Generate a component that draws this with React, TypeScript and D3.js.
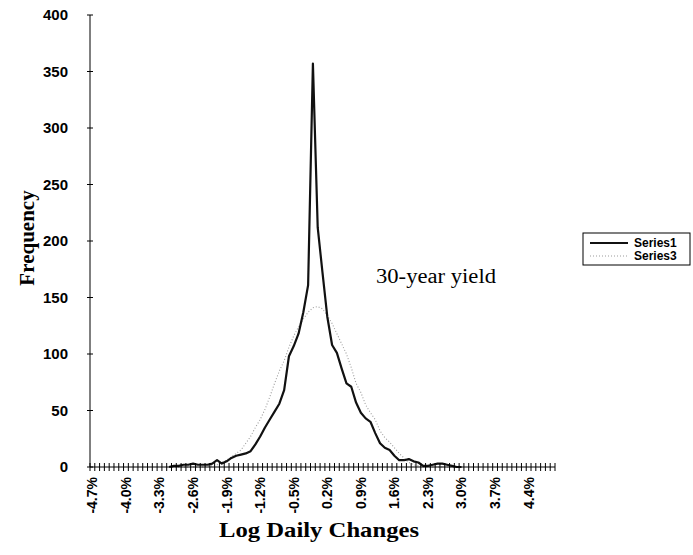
import React from 'react';
import * as d3 from 'd3';

// category axis: log daily changes, -4.7% .. 4.9% in 0.1% bins
const categories: string[] = d3.range(-47, 50).map((v) => `${(v / 10).toFixed(1)}%`);

const xTickLabels = ['-4.7%', '-4.0%', '-3.3%', '-2.6%', '-1.9%', '-1.2%', '-0.5%', '0.2%', '0.9%', '1.6%', '2.3%', '3.0%', '3.7%', '4.4%'];
const yTicks = [0, 50, 100, 150, 200, 250, 300, 350, 400];

// observed frequencies (null = no data in that bin)
const series1: (number | null)[] = [
    null, null, null, null, null, null, null, null, null, null, null, null, null, null, null, null,
    0, 1, 1, 2, 2, 3, 2, 2, 2, 3, 6, 3, 5, 8, 10, 11, 12, 14, 20, 27, 35, 42, 49, 56,
    68, 98, 107, 118, 137, 161, 357, 212, 172, 133, 108, 101, 87, 74, 71, 57, 48, 43, 40, 30,
    21, 17, 15, 10, 6, 6, 7, 5, 4, 1, 1, 2, 3, 3, 2, 1, 0, 0,
    null, null, null, null, null, null, null, null, null, null, null, null, null, null, null, null, null, null, null,
];

// fitted normal frequencies
const series3: (number | null)[] = [
    null, null, null, null, null, null, null, null, null, null, null, null, null, null, null, null,
    0, 0, 0, 0, 0, 0, 0, 0, 1, 1, 2, 4, 6, 9, 12, 15, 21, 27, 35, 42, 51, 62, 74, 85,
    94, 106, 116, 124, 131, 137, 141, 142, 140, 134, 127, 118, 109, 100, 88, 74, 66, 55, 48, 42,
    32, 26, 22, 17, 12, 8, 4, 2, 1, 0, 0, 0, 0, 0, 0, 0, 0, 0,
    null, null, null, null, null, null, null, null, null, null, null, null, null, null, null, null, null, null, null,
];

const W = 693;
const H = 555;
const sans = '"Liberation Sans", Arial, sans-serif';
const serif = '"Liberation Serif", "Times New Roman", serif';

export default function App() {
    const x = d3.scaleBand<string>().domain(categories).range([90, 555]).paddingInner(0).paddingOuter(0);
    const y = d3.scaleLinear().domain([0, 400]).range([467, 15]);
    const bw = x.bandwidth();
    const cx = (i: number) => (x(categories[i]) as number) + bw / 2;

    const line = d3.line<number | null>()
        .defined((d) => d !== null)
        .x((_, i) => cx(i))
        .y((d) => y(d as number));

    const [y0] = y.range();
    const [xl, xr] = x.range();
    const boundaries = categories.map((c) => x(c) as number).concat([xr]);

    return (
        <div style={{ position: 'absolute', left: 0, top: 0 }}>
            <svg width={W} height={H} style={{ display: 'block', background: '#fff' }}>
                {/* series */}
                <path d={line(series3) || ''} fill="none" stroke="#9c9c9c" strokeWidth={1.1} strokeDasharray="1 2" />
                <path d={line(series1) || ''} fill="none" stroke="#111" strokeWidth={2.2} strokeLinejoin="round" />

                {/* y axis */}
                <line x1={xl} x2={xl} y1={y(400)} y2={y0} stroke="#000" strokeWidth={1} />
                {yTicks.map((t) => (
                    <g key={t}>
                        <line x1={xl - 3} x2={xl + 3} y1={y(t)} y2={y(t)} stroke="#000" />
                        <text x={68} y={y(t)} dy="0.35em" textAnchor="end" fontFamily={sans} fontWeight="bold" fontSize={15}>
                            {t}
                        </text>
                    </g>
                ))}

                {/* x axis */}
                <line x1={xl} x2={xr} y1={y0} y2={y0} stroke="#000" strokeWidth={1} />
                {boundaries.map((bx, i) => (
                    <line key={i} x1={bx} x2={bx} y1={y0 - 4} y2={y0 + 4} stroke="#000" strokeWidth={1} />
                ))}
                {xTickLabels.map((lab) => {
                    const i = categories.indexOf(lab);
                    return (
                        <text key={lab} transform={`translate(${cx(i)},${y0 + 10}) rotate(-90)`} dy="0.35em" textAnchor="end"
                            fontFamily={sans} fontWeight="bold" fontSize={14}>
                            {lab}
                        </text>
                    );
                })}

                {/* titles */}
                <text transform="translate(34,238) rotate(-90)" textAnchor="middle" fontFamily={serif} fontWeight="bold" fontSize={21}>
                    Frequency
                </text>
                <text x={319} y={537} textAnchor="middle" fontFamily={serif} fontWeight="bold" fontSize={21}
                    textLength={200} lengthAdjust="spacingAndGlyphs">
                    Log Daily Changes
                </text>
                <text x={376} y={283} fontFamily={serif} fontSize={20} textLength={120} lengthAdjust="spacingAndGlyphs">
                    30-year yield
                </text>

                {/* legend */}
                <rect x={583} y={233} width={107} height={32} fill="#fff" stroke="#000" strokeWidth={1} />
                <line x1={590} x2={628} y1={243} y2={243} stroke="#111" strokeWidth={2.2} />
                <text x={634} y={243} dy="0.35em" fontFamily={sans} fontWeight="bold" fontSize={12}>Series1</text>
                <line x1={590} x2={628} y1={256} y2={256} stroke="#9c9c9c" strokeWidth={1.1} strokeDasharray="1 2" />
                <text x={634} y={256} dy="0.35em" fontFamily={sans} fontWeight="bold" fontSize={12}>Series3</text>
            </svg>
        </div>
    );
}
